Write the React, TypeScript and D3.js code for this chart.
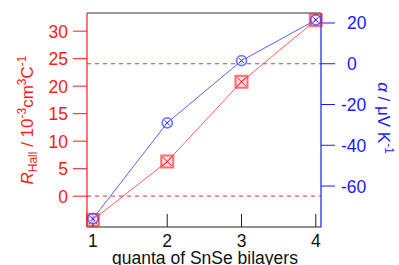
import * as React from 'react';
import * as d3 from 'd3';

// data
const quanta = [1, 2, 3, 4];
const rHall = [-4.3, 6.3, 20.8, 32.0];
const seebeck = [-76, -29, 1.5, 21.5];
const leftTicks = [0, 5, 10, 15, 20, 25, 30];
const rightTicks = [-60, -40, -20, 0, 20];
const xTicks = [1, 2, 3, 4];

const RED = '#ff1a1a';
const BLUE = '#1a1aff';
const FONT = '"Liberation Sans", Arial, sans-serif';

export default function App() {
  const left = 87, right = 321, top = 13, bottom = 227;
  const x = d3.scaleLinear().domain([0.92, 4.07]).range([left, right]);
  const yL = d3.scaleLinear().domain([-5.6, 33.3]).range([bottom, top]);
  const yR = d3.scaleLinear().domain([-80.1, 24.9]).range([bottom, top]);

  const redLine = d3.line<number>().x((d, i) => x(quanta[i])).y(d => yL(d));
  const blueLine = d3.line<number>().x((d, i) => x(quanta[i])).y(d => yR(d));

  return (
    <svg width={399} height={265} style={{ position: 'absolute', left: 0, top: 0 }} fontFamily={FONT}>
      <rect width={399} height={265} fill="#fff" />
      {/* zero lines */}
      <line x1={left} x2={right} y1={yR(0)} y2={yR(0)} stroke={BLUE} strokeOpacity={0.75} strokeDasharray="4,4" strokeWidth={1.2} />
      <line x1={left} x2={right} y1={yL(0)} y2={yL(0)} stroke={RED} strokeOpacity={0.75} strokeDasharray="4,4" strokeWidth={1.2} />

      {/* frame */}
      <line x1={left} x2={right} y1={top} y2={top} stroke="#333" strokeWidth={1} />
      <line x1={left} x2={right} y1={bottom} y2={bottom} stroke="#222" strokeWidth={1.2} />
      <line x1={left} x2={left} y1={top} y2={bottom} stroke={RED} strokeWidth={1.2} />
      <line x1={right} x2={right} y1={top} y2={bottom} stroke={BLUE} strokeWidth={1.2} />

      {/* bottom axis */}
      {xTicks.map(t => (
        <g key={'x' + t}>
          <line x1={x(t)} x2={x(t)} y1={bottom} y2={bottom - 13} stroke="#222" strokeWidth={1} />
          <text x={x(t)} y={247} textAnchor="middle" fontSize={17.5} fill="#111">{t}</text>
        </g>
      ))}
      <text x={205} y={264} textAnchor="middle" fontSize={17.5} fill="#111">quanta of SnSe bilayers</text>

      {/* left axis */}
      {leftTicks.map(t => (
        <g key={'l' + t}>
          <line x1={left - 14} x2={left} y1={yL(t)} y2={yL(t)} stroke={RED} strokeWidth={1} />
          <text x={68} y={yL(t) + 6.5} textAnchor="end" fontSize={17.5} fill={RED}>{t}</text>
        </g>
      ))}
      <text transform="translate(33,120) rotate(-90)" textAnchor="middle" fontSize={17} fill={RED}>
        <tspan fontStyle="italic">R</tspan>
        <tspan fontSize={12} dy={4}>Hall</tspan>
        <tspan dy={-4}> / 10</tspan>
        <tspan fontSize={12} dy={-7}>-3</tspan>
        <tspan dy={7}>cm</tspan>
        <tspan fontSize={12} dy={-7}>3</tspan>
        <tspan dy={7}>C</tspan>
        <tspan fontSize={12} dy={-7}>-1</tspan>
      </text>

      {/* right axis */}
      {rightTicks.map(t => (
        <g key={'r' + t}>
          <line x1={right} x2={right + 14} y1={yR(t)} y2={yR(t)} stroke={BLUE} strokeWidth={1} />
          <text x={t < 0 ? 341 : 347} y={yR(t) + 6.5} textAnchor="start" fontSize={17.5} fill={BLUE}>{t}</text>
        </g>
      ))}
      <text transform="translate(378,118) rotate(90)" textAnchor="middle" fontSize={17} fill={BLUE}>
        <tspan fontStyle="italic">α</tspan>
        <tspan> / μV K</tspan>
        <tspan fontSize={12} dy={-7}>-1</tspan>
      </text>

      {/* series */}
      <path d={redLine(rHall) || ''} fill="none" stroke={RED} strokeOpacity={0.7} strokeWidth={1} />
      <path d={blueLine(seebeck) || ''} fill="none" stroke={BLUE} strokeOpacity={0.7} strokeWidth={1} />

      {rHall.map((v, i) => {
        const cx = x(quanta[i]), cy = yL(v);
        return (
          <g key={'rm' + i} stroke={RED} strokeWidth={1}>
            <rect x={cx - 6} y={cy - 6} width={12} height={12} fill={RED} fillOpacity={0.15} strokeOpacity={0.6} strokeWidth={2} />
            <line x1={cx - 4.5} x2={cx + 4.5} y1={cy - 4.5} y2={cy + 4.5} />
            <line x1={cx - 4.5} x2={cx + 4.5} y1={cy + 4.5} y2={cy - 4.5} />
          </g>
        );
      })}
      {seebeck.map((v, i) => {
        const cx = x(quanta[i]), cy = yR(v);
        return (
          <g key={'bm' + i} stroke={BLUE} strokeWidth={1}>
            <circle cx={cx} cy={cy} r={5} fill="#fff" fillOpacity={0.6} strokeOpacity={0.6} strokeWidth={1.8} />
            <line x1={cx - 2.5} x2={cx + 2.5} y1={cy - 2.5} y2={cy + 2.5} />
            <line x1={cx - 2.5} x2={cx + 2.5} y1={cy + 2.5} y2={cy - 2.5} />
          </g>
        );
      })}
    </svg>
  );
}
